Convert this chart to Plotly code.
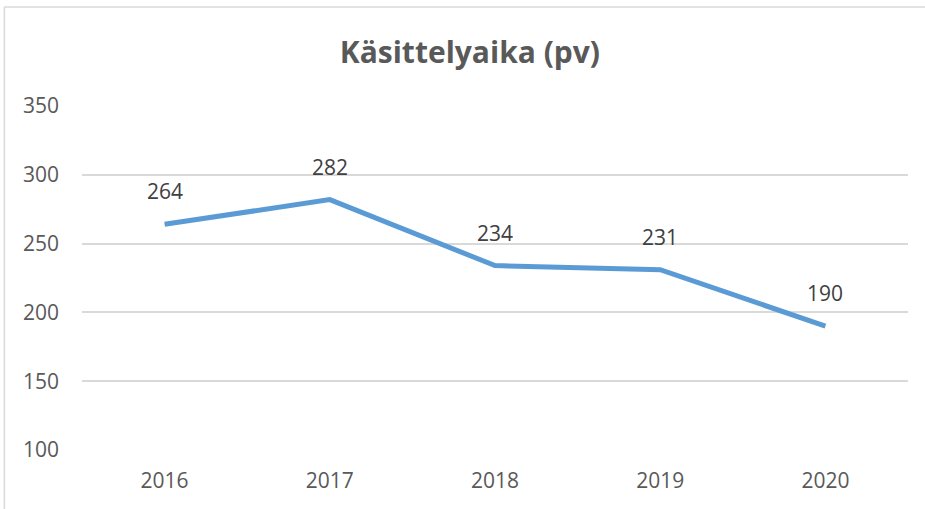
import plotly.graph_objects as go

years = ["2016", "2017", "2018", "2019", "2020"]
values = [264, 282, 234, 231, 190]
y_ticks = [100, 150, 200, 250, 300, 350]
title_text = "Käsittelyaika (pv)"

FONT = "Open Sans"
fig = go.Figure()
fig.add_trace(go.Scatter(
    x=years, y=values, mode="lines",
    line=dict(color="#5B9BD5", width=5),
    hoverinfo="skip", showlegend=False,
))

for i, yv in enumerate(values):
    fig.add_annotation(x=i, y=yv, text=str(yv), showarrow=False,
                       xref="x", yref="y",
                       yshift=33, font=dict(family=FONT, size=21, color="#404040"))

# chart border (top and left edges visible in crop)
bx = -0.094
by = 1.288
fig.add_shape(type="line", xref="paper", yref="paper", x0=bx, x1=bx, y0=-0.3, y1=by,
              line=dict(color="#D9D9D9", width=1.5))
fig.add_shape(type="line", xref="paper", yref="paper", x0=bx, x1=1.2, y0=by, y1=by,
              line=dict(color="#D9D9D9", width=1.5))

fig.update_layout(
    width=925, height=509,
    margin=dict(l=82, r=17, t=106, b=59),
    paper_bgcolor="white", plot_bgcolor="white",
    title=dict(text=f"<b>{title_text}</b>", x=0.508, xanchor="center",
               y=1 - 52/509, yanchor="middle",
               font=dict(family=FONT, size=30, color="#595959")),
    xaxis=dict(type="category", showgrid=False, showline=False, ticks="",
               tickfont=dict(family=FONT, size=21, color="#595959"),
               ticklabelstandoff=16, range=[-0.5, 4.5]),
    yaxis=dict(range=[100, 350], tickvals=y_ticks, showgrid=True,
               gridcolor="#D9D9D9", gridwidth=1.5, zeroline=False, showline=False,
               ticks="", ticklabelstandoff=22,
               tickfont=dict(family=FONT, size=21, color="#595959")),
)
fig.write_html("out.html", config={"displayModeBar": False},
               post_script="document.body.style.margin='0';document.body.style.overflow='hidden';")
